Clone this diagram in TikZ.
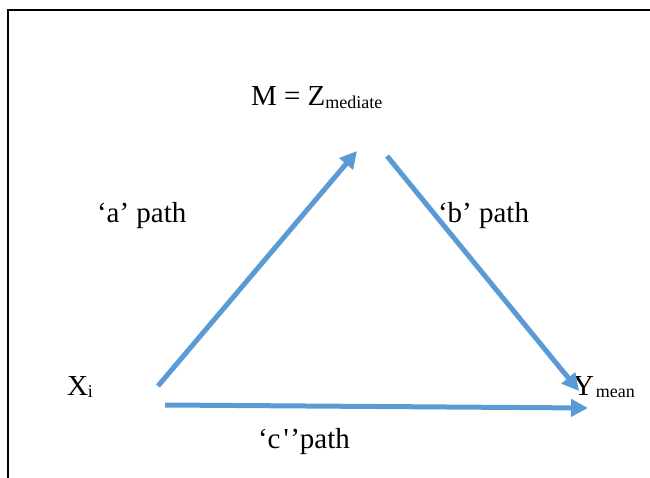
\documentclass[tikz,border=0pt]{standalone}
\usepackage{fontspec}
\newfontfamily\tnr{Liberation Serif}
\usetikzlibrary{arrows.meta}
\definecolor{pathblue}{HTML}{5B9BD5}
\newcommand{\mysub}[1]{{\fontsize{18}{18}\selectfont\raisebox{-2.5pt}{#1}}}
\tikzset{
  lbl/.style={anchor=base west, inner sep=0pt, outer sep=0pt, font=\tnr\fontsize{29}{29}\selectfont},
  conn/.style={draw=pathblue, line width=5pt, -{Triangle[length=17pt,width=17pt]}}
}
\begin{document}
\begin{tikzpicture}[x=1pt,y=-1pt]
\useasboundingbox (0,0) rectangle (650,478);
\draw[line width=2pt] (650,10) -- (8,10) -- (8,478);
\node[lbl] (m) at (251,106) {M = Z\mysub{mediate}};
\node[lbl] (a) at (97,223) {‘a’ path};
\node[lbl] (b) at (438,223) {‘b’ path};
\node[lbl] (x) at (67,395) {X\mysub{i}};
\node[lbl] (y) at (573,395) {Y\hspace{2pt}\mysub{mean}};
\node[lbl] (c) at (258,448) {‘c\hspace{3pt}'\hspace{1.5pt}’path};
\coordinate (as) at (158,386);
\coordinate (ae) at (357,151);
\coordinate (bs) at (387,156);
\coordinate (be) at (579,391);
\coordinate (cs) at (165,405);
\coordinate (ce) at (588,408);
\draw[conn] (as) -- (ae);
\draw[conn] (bs) -- (be);
\draw[conn] (cs) -- (ce);
\end{tikzpicture}
\end{document}
